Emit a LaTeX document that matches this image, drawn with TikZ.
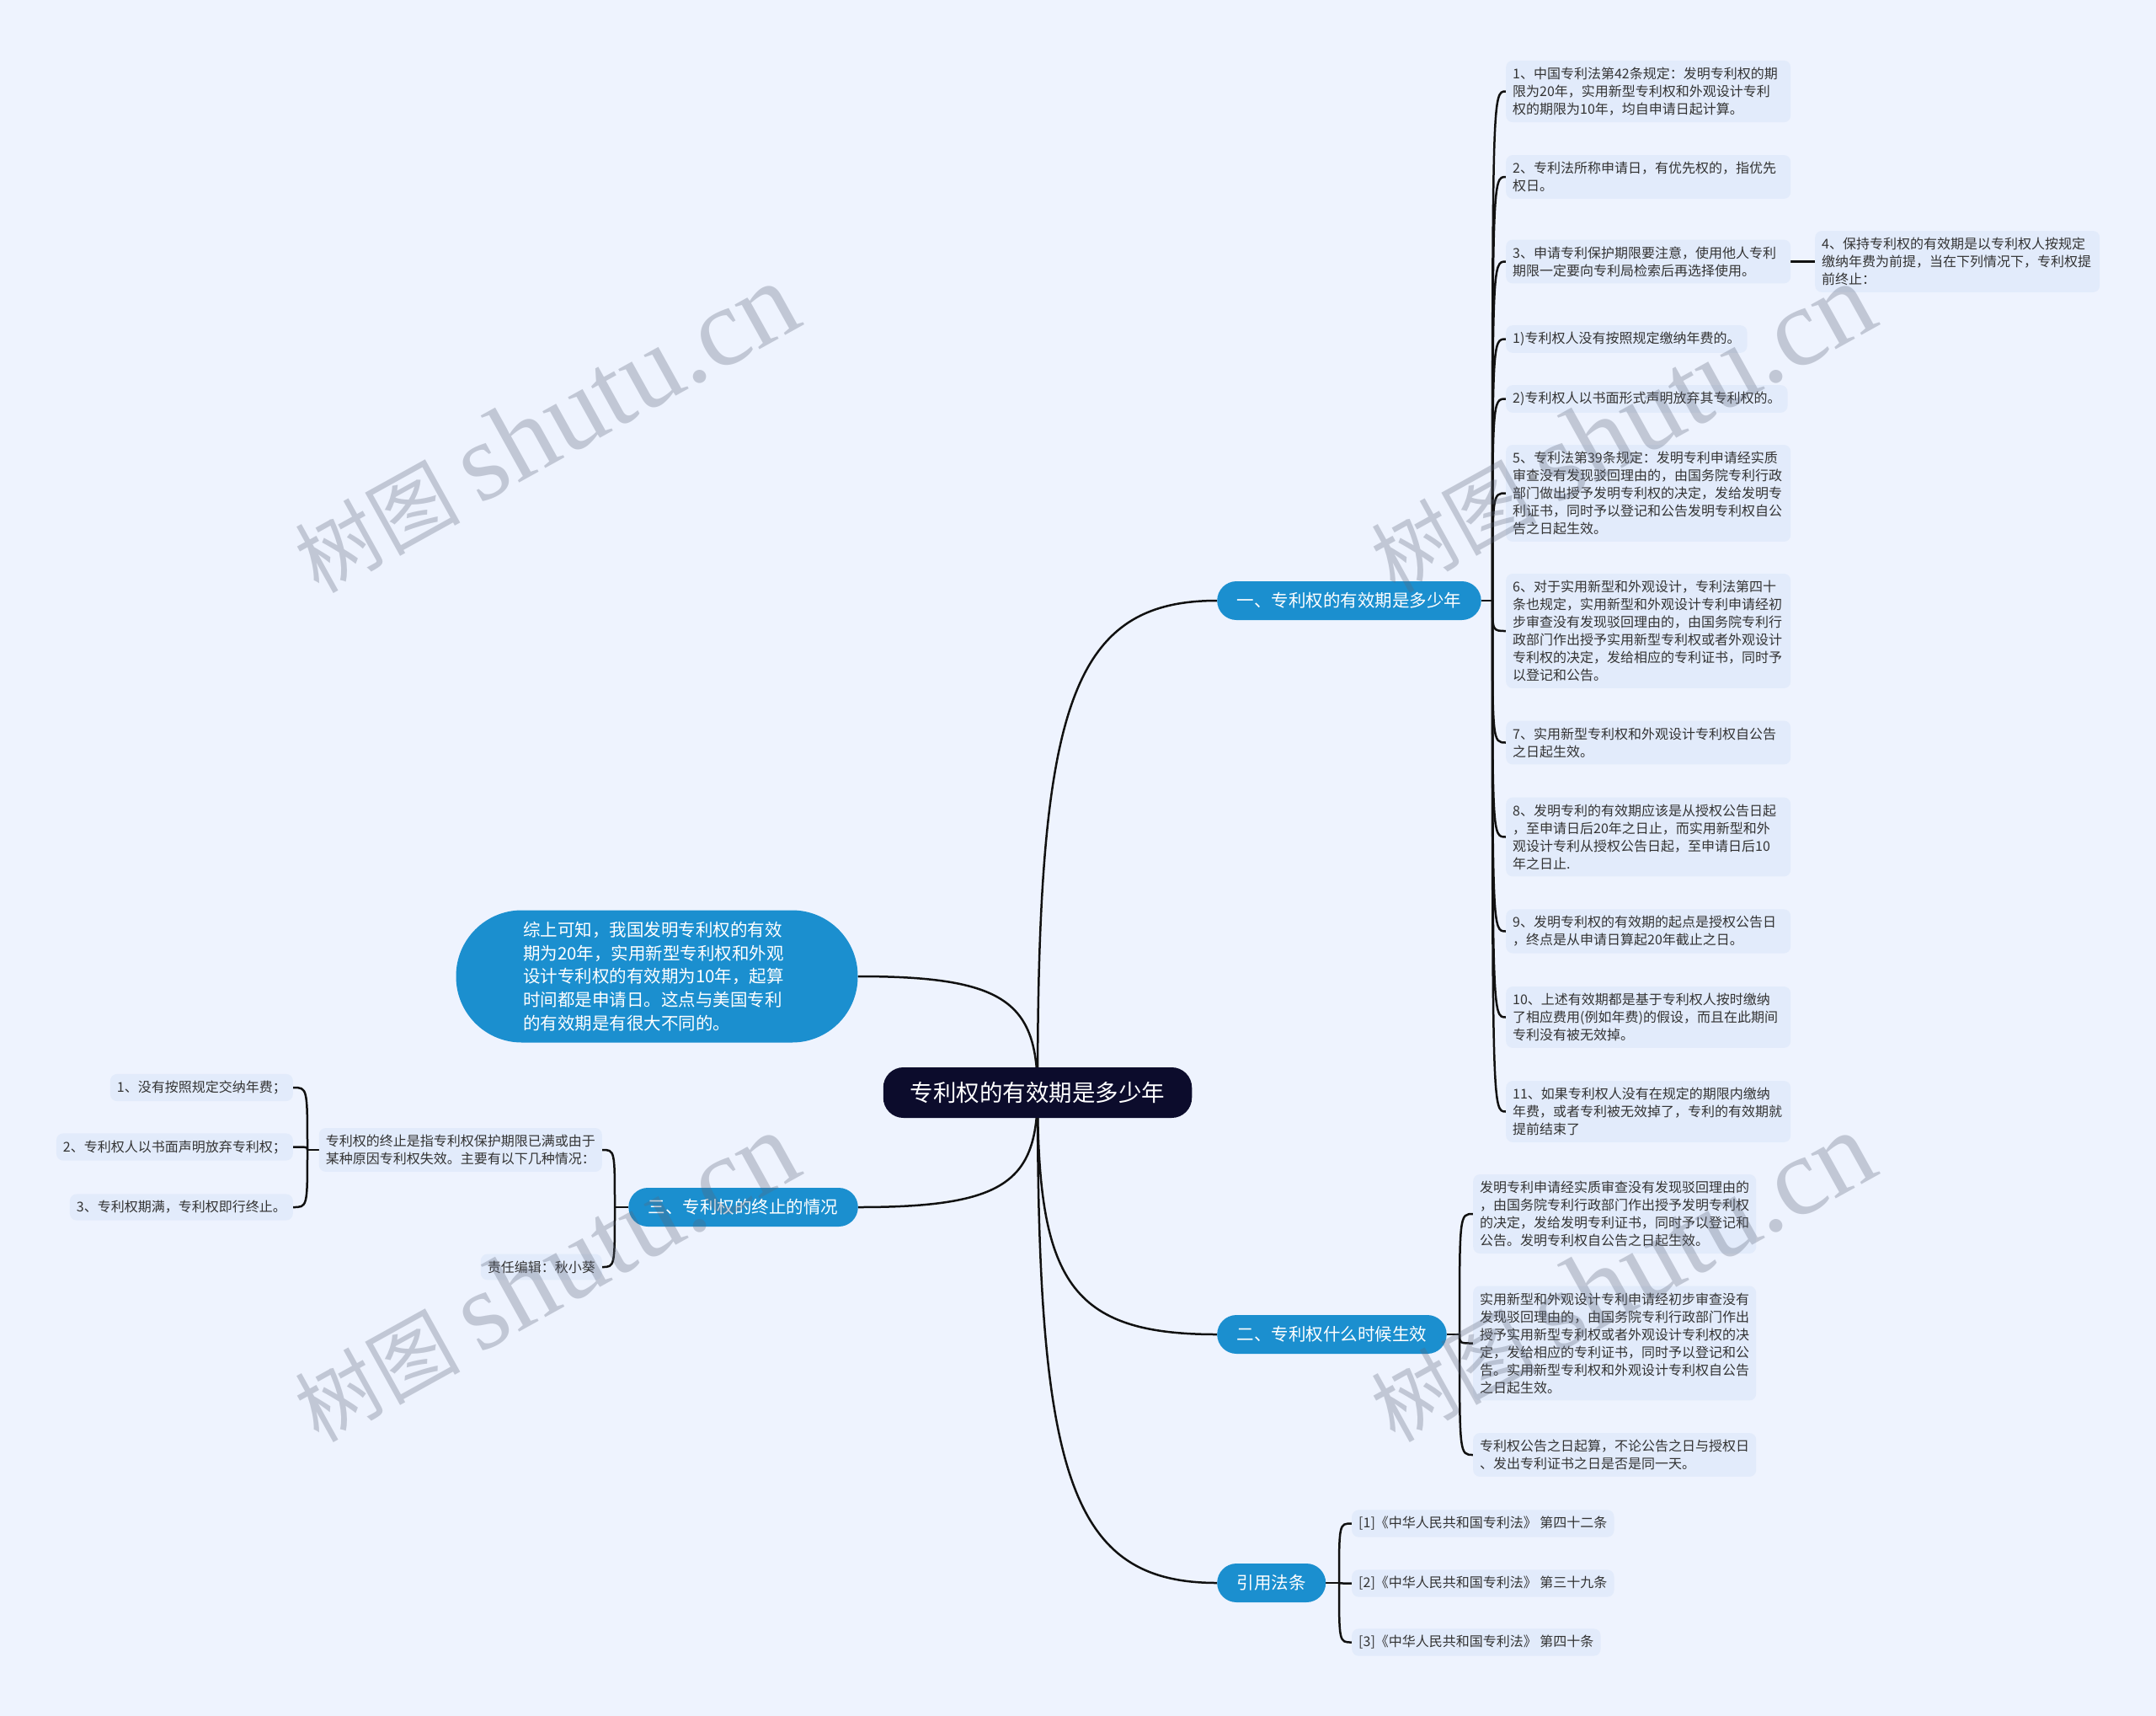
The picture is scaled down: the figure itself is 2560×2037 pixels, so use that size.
\documentclass[tikz,border=0pt]{standalone}
\usepackage{fontspec}
\setmainfont{Noto Sans CJK SC}
\newfontfamily\wmserif{Liberation Serif}
\usetikzlibrary{calc}
\definecolor{bgc}{HTML}{EEF3FE}
\definecolor{leafc}{HTML}{E2EBFB}
\definecolor{bluec}{HTML}{1B8FCF}
\definecolor{navyc}{HTML}{0C0C2C}
\definecolor{txtc}{HTML}{333333}
\definecolor{linec}{HTML}{111111}
\definecolor{wmc}{HTML}{5C6478}
\pgfdeclarelayer{bg}\pgfdeclarelayer{links}\pgfdeclarelayer{fg}
\pgfsetlayers{bg,links,main,fg}
\newcommand\mainlink[2]{\draw[link] let \p1=(#1.center), \p2=(#2) in (\p1) .. controls (\x1,{\y2+0.22*(\y1-\y2)}) and ({\x2+0.82*(\x1-\x2)},\y2) .. (\p2);}
\newcommand\leaflink[2]{\draw[link] (#1) .. controls (#1 |- #2) .. (#2);}
\newcommand\wmtext{{\fontsize{98pt}{98pt}\selectfont 树图}\hspace{22pt}{\wmserif\fontsize{132pt}{132pt}\selectfont shutu.cn}}
\begin{document}
\begin{tikzpicture}[x=1pt,y=-1pt,
  leaf/.style={fill=leafc, rounded corners=8pt, text=txtc, font=\fontsize{16pt}{21pt}\selectfont, inner xsep=8pt, inner ysep=8pt, align=left},
  rleaf/.style={leaf, text width=322pt},
  gleaf/.style={leaf, text width=320pt},
  lleaf/.style={leaf, align=right},
  branch/.style={fill=bluec, text=white, rounded corners=23pt, minimum height=46pt, inner xsep=23.5pt, inner ysep=0pt, font=\fontsize{20.5pt}{24pt}\selectfont},
  centralnode/.style={fill=navyc, text=white, rounded corners=24pt, minimum height=60pt, inner xsep=32pt, font=\fontsize{27.5pt}{32pt}\selectfont},
  summary/.style={fill=bluec, text=white, rounded corners=78pt, minimum width=477pt, minimum height=157pt, text width=318pt, align=left, font=\fontsize{20.5pt}{27.8pt}\selectfont},
  link/.style={draw=linec, line width=2.5pt},
  wm/.style={text=wmc, text opacity=0.3, rotate=29, inner sep=0pt}
]
\begin{pgfonlayer}{bg}
\fill[bgc] (0,0) rectangle (2560,2037);
\end{pgfonlayer}
\useasboundingbox (0,0) rectangle (2560,2037);

% central and branches
\node[centralnode] (c) at (1232,1297) {专利权的有效期是多少年};
\node[branch, anchor=west] (b1) at (1445,713) {一、专利权的有效期是多少年};
\node[branch, anchor=west] (b2) at (1445,1584) {二、专利权什么时候生效};
\node[branch, anchor=east] (b3) at (1019,1433) {三、专利权的终止的情况};
\node[branch, anchor=west] (b4) at (1445,1879) {引用法条};
\node[summary] (s) at (780,1159) {综上可知，我国发明专利权的有效\\期为20年，实用新型专利权和外观\\设计专利权的有效期为10年，起算\\时间都是申请日。这点与美国专利\\的有效期是有很大不同的。};

% branch 1 leaves
\node[rleaf, anchor=west] (r1) at (1788,108.5) {1、中国专利法第42条规定：发明专利权的期\\限为20年，实用新型专利权和外观设计专利\\权的期限为10年，均自申请日起计算。};
\node[rleaf, anchor=west] (r2) at (1788,210) {2、专利法所称申请日，有优先权的，指优先\\权日。};
\node[rleaf, anchor=west] (r3) at (1788,310.5) {3、申请专利保护期限要注意，使用他人专利\\期限一定要向专利局检索后再选择使用。};
\node[rleaf, anchor=west] (r4) at (2155,310.5) {4、保持专利权的有效期是以专利权人按规定\\缴纳年费为前提，当在下列情况下，专利权提\\前终止：};
\node[leaf, anchor=west] (ra) at (1788,402.5) {1)专利权人没有按照规定缴纳年费的。};
\node[leaf, anchor=west] (rb) at (1788,473.5) {2)专利权人以书面形式声明放弃其专利权的。};
\node[rleaf, anchor=west] (r5) at (1788,585.5) {5、专利法第39条规定：发明专利申请经实质\\审查没有发现驳回理由的，由国务院专利行政\\部门做出授予发明专利权的决定，发给发明专\\利证书，同时予以登记和公告发明专利权自公\\告之日起生效。};
\node[rleaf, anchor=west] (r6) at (1788,749) {6、对于实用新型和外观设计，专利法第四十\\条也规定，实用新型和外观设计专利申请经初\\步审查没有发现驳回理由的，由国务院专利行\\政部门作出授予实用新型专利权或者外观设计\\专利权的决定，发给相应的专利证书，同时予\\以登记和公告。};
\node[rleaf, anchor=west] (r7) at (1788,881.5) {7、实用新型专利权和外观设计专利权自公告\\之日起生效。};
\node[rleaf, anchor=west] (r8) at (1788,993.5) {8、发明专利的有效期应该是从授权公告日起\\，至申请日后20年之日止，而实用新型和外\\观设计专利从授权公告日起，至申请日后10\\年之日止.};
\node[rleaf, anchor=west] (r9) at (1788,1105.5) {9、发明专利权的有效期的起点是授权公告日\\，终点是从申请日算起20年截止之日。};
\node[rleaf, anchor=west] (r10) at (1788,1207.5) {10、上述有效期都是基于专利权人按时缴纳\\了相应费用(例如年费)的假设，而且在此期间\\专利没有被无效掉。};
\node[rleaf, anchor=west] (r11) at (1788,1319.5) {11、如果专利权人没有在规定的期限内缴纳\\年费，或者专利被无效掉了，专利的有效期就\\提前结束了};

% branch 2 leaves
\node[gleaf, anchor=west] (g1) at (1749,1441) {发明专利申请经实质审查没有发现驳回理由的\\，由国务院专利行政部门作出授予发明专利权\\的决定，发给发明专利证书，同时予以登记和\\公告。发明专利权自公告之日起生效。};
\node[gleaf, anchor=west] (g2) at (1749,1594.5) {实用新型和外观设计专利申请经初步审查没有\\发现驳回理由的，由国务院专利行政部门作出\\授予实用新型专利权或者外观设计专利权的决\\定，发给相应的专利证书，同时予以登记和公\\告。实用新型专利权和外观设计专利权自公告\\之日起生效。};
\node[gleaf, anchor=west] (g3) at (1749,1727) {专利权公告之日起算，不论公告之日与授权日\\、发出专利证书之日是否是同一天。};

% branch 4 leaves
\node[leaf, anchor=west] (f1) at (1605,1808.5) {[1]《中华人民共和国专利法》 第四十二条};
\node[leaf, anchor=west] (f2) at (1605,1879.5) {[2]《中华人民共和国专利法》 第三十九条};
\node[leaf, anchor=west] (f3) at (1605,1949.5) {[3]《中华人民共和国专利法》 第四十条};

% branch 3 leaves
\node[leaf, anchor=east] (l0) at (715,1365) {专利权的终止是指专利权保护期限已满或由于\\某种原因专利权失效。主要有以下几种情况：};
\node[lleaf, anchor=east] (ed) at (715,1504) {责任编辑：秋小葵};
\node[lleaf, anchor=east] (l1) at (348,1291) {1、没有按照规定交纳年费；};
\node[lleaf, anchor=east] (l2) at (348,1361.5) {2、专利权人以书面声明放弃专利权；};
\node[lleaf, anchor=east] (l3) at (348,1433) {3、专利权期满，专利权即行终止。};

% junctions
\coordinate (j1) at (1772,713);
\coordinate (j2) at (1733,1584);
\coordinate (j3) at (730,1433);
\coordinate (j4) at (1590,1879);
\coordinate (j5) at (365,1365);

\begin{pgfonlayer}{links}
\mainlink{c}{b1.west}
\mainlink{c}{s.east}
\mainlink{c}{b3.east}
\mainlink{c}{b2.west}
\mainlink{c}{b4.west}
\draw[link] (b1.east) -- (j1);
\foreach \n in {r1,r2,r3,ra,rb,r5,r6,r7,r8,r9,r10,r11} {\leaflink{j1}{\n.west}}
\draw[link] (r3.east) -- (r4.west);
\draw[link] (b2.east) -- (j2);
\foreach \n in {g1,g2,g3} {\leaflink{j2}{\n.west}}
\draw[link] (b4.east) -- (j4);
\foreach \n in {f1,f2,f3} {\leaflink{j4}{\n.west}}
\draw[link] (b3.west) -- (j3);
\foreach \n in {l0,ed} {\leaflink{j3}{\n.east}}
\draw[link] (l0.west) -- (j5);
\foreach \n in {l1,l2,l3} {\leaflink{j5}{\n.east}}
\end{pgfonlayer}

\begin{pgfonlayer}{fg}
\node[wm] (wm1) at (648,508) {\wmtext};
\node[wm] (wm2) at (1926,508) {\wmtext};
\node[wm] (wm3) at (648,1516) {\wmtext};
\node[wm] (wm4) at (1926,1516) {\wmtext};
\end{pgfonlayer}
\end{tikzpicture}
\end{document}
